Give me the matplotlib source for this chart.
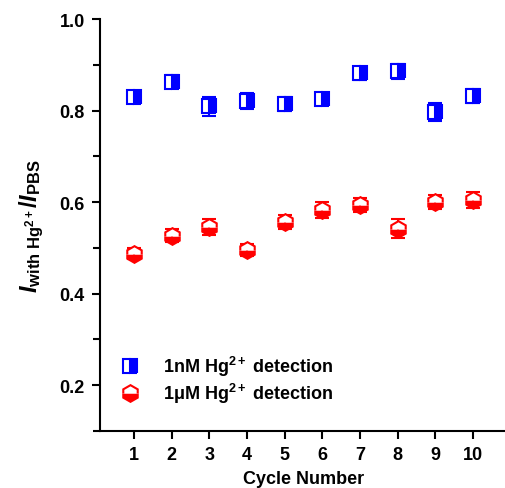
import numpy as np
import matplotlib
matplotlib.use("Agg")
import matplotlib.pyplot as plt
from matplotlib.lines import Line2D
from matplotlib.ticker import MultipleLocator

plt.rcParams["font.family"] = ["Liberation Sans", "DejaVu Sans"]
plt.rcParams["font.weight"] = "bold"
plt.rcParams["mathtext.fontset"] = "custom"
plt.rcParams["mathtext.rm"] = "Liberation Sans"
plt.rcParams["mathtext.it"] = "Liberation Sans:bold:italic"
plt.rcParams["mathtext.bf"] = "Liberation Sans:bold"

# ciclos y respuestas normalizadas
ciclos = np.arange(1, 11)
nm_val = [0.830, 0.863, 0.809, 0.821, 0.814, 0.826, 0.881, 0.886, 0.797, 0.832]
nm_err = [0.012, 0.014, 0.020, 0.017, 0.015, 0.012, 0.015, 0.016, 0.019, 0.015]
um_val = [0.487, 0.527, 0.545, 0.496, 0.556, 0.583, 0.594, 0.542, 0.600, 0.605]
um_err = [0.012, 0.014, 0.017, 0.013, 0.015, 0.017, 0.016, 0.021, 0.016, 0.017]

etiquetas = [r"1nM Hg$^{\mathbf{2+}}$ detection", "1\u03bcM Hg$^{\\mathbf{2+}}$ detection"]

estilo_nm = dict(marker="s", color="#0000ff", markersize=10, fillstyle="right",
                 markerfacecoloralt="white", markeredgewidth=1.5)
estilo_um = dict(marker="h", color="#ff0000", markersize=12, fillstyle="bottom",
                 markerfacecoloralt="white", markeredgewidth=1.5)

fig = plt.figure(figsize=(5.06, 4.89), dpi=100)
ax = fig.add_axes([0.198, 0.1166, 0.802, 0.8425])

ax.errorbar(ciclos, nm_val, yerr=nm_err, linestyle="none", capsize=5,
            capthick=1.5, elinewidth=1.5, **estilo_nm)
ax.errorbar(ciclos, um_val, yerr=um_err, linestyle="none", capsize=5,
            capthick=1.5, elinewidth=1.5, **estilo_um)

ax.set_xlim(0.1, 10.88)
ax.set_ylim(0.1, 1.0)
ax.set_xticks(ciclos)
ax.set_yticks([0.2, 0.4, 0.6, 0.8, 1.0])
ax.yaxis.set_minor_locator(MultipleLocator(0.1))

ax.spines["top"].set_visible(False)
ax.spines["right"].set_visible(False)
for s in ["left", "bottom"]:
    ax.spines[s].set_linewidth(1.5)
ax.tick_params(axis="both", which="major", direction="out", length=6,
               width=1.5, labelsize=13, pad=5)
ax.tick_params(axis="y", which="minor", direction="out", length=5, width=1.5)
for lab in ax.get_xticklabels() + ax.get_yticklabels():
    lab.set_fontweight("bold")

ax.set_xlabel("Cycle Number", fontsize=13, fontweight="bold", labelpad=5)
ax.set_ylabel(r"$\mathit{I}_{\mathrm{with\ Hg^{2+}}}\mathit{/I}_{\mathrm{PBS}}$",
              fontsize=17, labelpad=10)

# leyenda solo con los marcadores
handles = [Line2D([], [], linestyle="none", **estilo_nm),
           Line2D([], [], linestyle="none", **estilo_um)]
ax.legend(handles, etiquetas, loc="lower left", bbox_to_anchor=(0.03, 0.045),
          frameon=False, fontsize=13, handlelength=1.2, handletextpad=1.2,
          labelspacing=0.15, borderaxespad=0.0)

fig.savefig("out.png", dpi=100)
